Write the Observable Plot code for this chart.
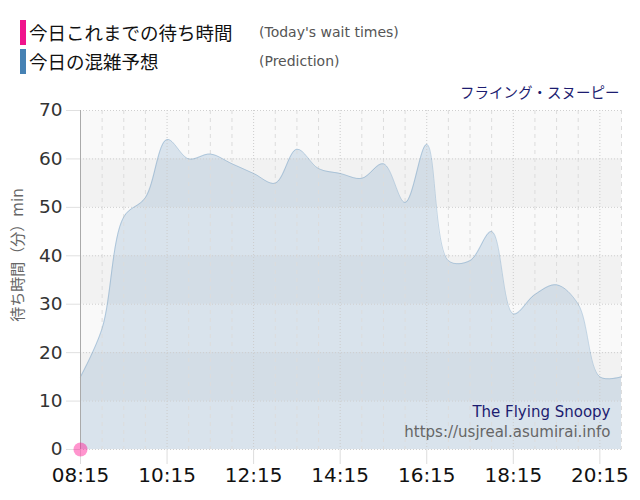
<!DOCTYPE html>
<html><head><meta charset="utf-8">
<script src="https://cdn.jsdelivr.net/npm/d3@7"></script>
<script src="https://cdn.jsdelivr.net/npm/@observablehq/plot@0.6"></script>
<style>
body{margin:0;background:#fff;}
#wrap{position:relative;width:640px;height:500px;font-family:"DejaVu Sans","Noto Sans CJK JP",sans-serif;}
#legend{position:relative;height:80px;}
.bar{position:absolute;left:20px;width:6px;height:25px;}
.jp{position:absolute;left:29px;font-family:"Noto Sans CJK JP",sans-serif;font-size:18.5px;line-height:1;color:#111;white-space:nowrap;}
.en{position:absolute;left:259px;font-size:14px;line-height:1;color:#555;white-space:nowrap;}
#chart svg{display:block;}
</style></head>
<body>
<div id="wrap">
  <div id="legend">
    <div class="bar" style="top:20px;background:#f0148c"></div>
    <div class="jp" style="top:23px">今日これまでの待ち時間</div>
    <div class="en" style="top:25px">(Today's wait times)</div>
    <div class="bar" style="top:49px;background:#4682b4"></div>
    <div class="jp" style="top:52px">今日の混雑予想</div>
    <div class="en" style="top:54px">(Prediction)</div>
  </div>
  <div id="chart"></div>
</div>
<script>
// Prediction series (every 30 minutes)
const times = ["08:15","08:45","09:15","09:45","10:15","10:45","11:15","11:45","12:15","12:45",
               "13:15","13:45","14:15","14:45","15:15","15:45","16:15","16:45","17:15","17:45",
               "18:15","18:45","19:15","19:45","20:15","20:45"];
const predValues = [15,25,48,52,64,60,61,59,57,55,
                    62,58,57,56,59,51,63,39,39,45,
                    28,32,34,30,15,15];
// Today's actual wait times
const todayTimes = ["08:15"];
const todayValues = [0];
// Axis ticks
const xTickLabels = ["08:15","10:15","12:15","14:15","16:15","18:15","20:15"];
const yTicks = [0,10,20,30,40,50,60,70];
const darkBands = [[10,20],[30,40],[50,60]];
const title = "フライング・スヌーピー";
const yLabel = "待ち時間（分）min";
const credit1 = "The Flying Snoopy";
const credit2 = "https://usjreal.asumirai.info";

const toDate = s => { const [h,m] = s.split(":").map(Number); return new Date(Date.UTC(2000,0,1,h,m)); };
const pred = times.map((t,i) => ({t: toDate(t), v: predValues[i]}));
const today = todayTimes.map((t,i) => ({t: toDate(t), v: todayValues[i]}));
const bands = darkBands.map(([a,b]) => ({y1:a, y2:b}));
const minorX = times.filter(t => !xTickLabels.includes(t)).map(toDate);
const majorX = xTickLabels.map(toDate);

const chart = Plot.plot({
  width: 640,
  height: 420,
  marginTop: 30,
  marginRight: 19,
  marginBottom: 51,
  marginLeft: 80,
  style: {fontFamily: "'DejaVu Sans','Noto Sans CJK JP',sans-serif", background: "#fff", overflow: "visible"},
  x: {type: "utc", domain: [toDate(times[0]), toDate(times[times.length-1])]},
  y: {domain: [0, 70]},
  marks: [
    Plot.frame({fill: "#f9f9f9", stroke: null}),
    Plot.rectY(bands, {y1: "y1", y2: "y2", fill: "#f2f2f2"}),
    Plot.areaY(pred, {x: "t", y: "v", fill: "#4682b4", fillOpacity: 0.18, curve: "catmull-rom"}),
    Plot.ruleX(minorX, {stroke: "#dcdcdc", strokeDasharray: "4,4"}),
    Plot.ruleX(majorX, {stroke: "#cccccc", strokeDasharray: "1,2"}),
    Plot.ruleY(yTicks, {stroke: "#cfcfcf", strokeDasharray: "1,2"}),
    Plot.lineY(pred, {x: "t", y: "v", stroke: "#4682b4", strokeOpacity: 0.3, strokeWidth: 1, curve: "catmull-rom"}),
    Plot.ruleX([toDate(times[0])], {stroke: "#aaa"}),
    Plot.axisX({ticks: majorX, tickFormat: d3.utcFormat("%H:%M"), tickSize: 15, tickPadding: 3,
                fontSize: 20, stroke: "#ddd", fill: "#111", label: null}),
    Plot.axisY({ticks: yTicks, tickSize: 14, tickPadding: 4, fontSize: 18.5, stroke: "#e0e0e0", fill: "#333", label: null}),
    Plot.text([yLabel], {frameAnchor: "left", rotate: -90, dx: -62, dy: -25, textAnchor: "middle",
                         fontSize: 15, fill: "#666"}),
    Plot.text([title], {frameAnchor: "top-right", dx: -2, dy: -17, textAnchor: "end", lineAnchor: "middle",
                        fontSize: 14.5, fill: "#1c1c70"}),
    Plot.text([credit1], {frameAnchor: "bottom-right", dx: -11, dy: -37, textAnchor: "end", lineAnchor: "middle",
                          fontSize: 15, fill: "#1c1c70"}),
    Plot.text([credit2], {frameAnchor: "bottom-right", dx: -11, dy: -17, textAnchor: "end", lineAnchor: "middle",
                          fontSize: 15, fill: "#666"}),
    Plot.dot(today, {x: "t", y: "v", r: 7, fill: "#ff1493", fillOpacity: 0.45, stroke: null, clip: false})
  ]
});
document.getElementById("chart").appendChild(chart);
</script>
</body></html>
